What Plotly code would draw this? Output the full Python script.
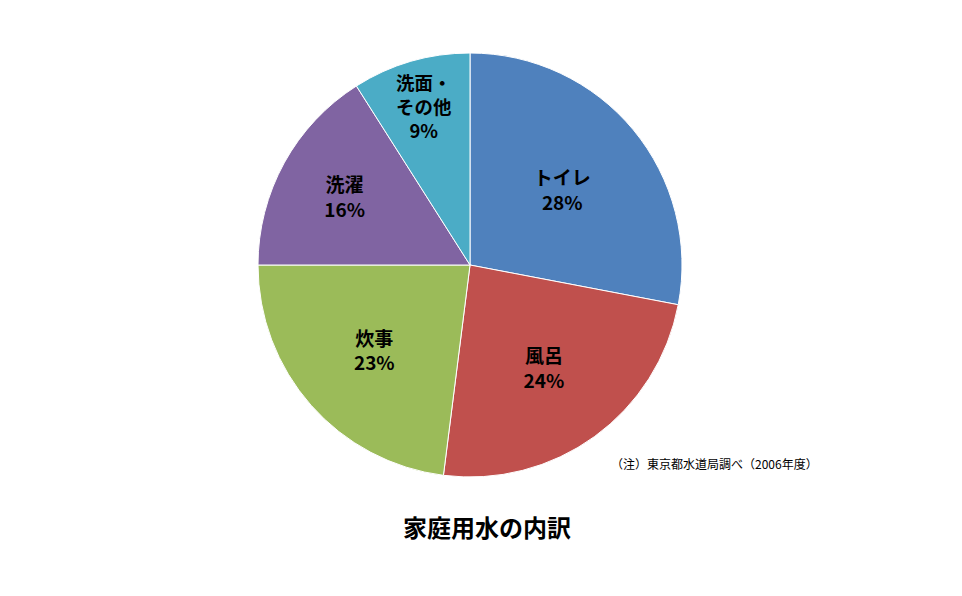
import plotly.graph_objects as go

categories = ["トイレ", "風呂", "炊事", "洗濯", "洗面・<br>その他"]
shares = [28, 24, 23, 16, 9]
colors = ["#4F81BD", "#C0504D", "#9BBB59", "#8064A2", "#4BACC6"]
title_text = "家庭用水の内訳"
note_text = "（注）東京都水道局調べ（2006年度）"

W, H = 962, 596
OFF = 8  # page body margin
cx, cy, r = 470 - OFF, 265 - OFF, 212

fig = go.Figure(go.Pie(
    labels=categories,
    values=shares,
    sort=False,
    direction="clockwise",
    rotation=0,
    marker=dict(colors=colors, line=dict(color="white", width=1)),
    texttemplate="<b>%{label}<br>%{value}%</b>",
    textposition="inside",
    insidetextorientation="horizontal",
    textfont=dict(family="Noto Sans CJK JP", size=19, color="black"),
    domain=dict(x=[(cx - r) / W, (cx + r) / W], y=[1 - (cy + r) / H, 1 - (cy - r) / H]),
    showlegend=False,
    hoverinfo="label+percent",
))

fig.add_annotation(text="<b>" + title_text + "</b>", x=(487 - OFF) / W, y=1 - (526 - OFF) / H,
                   xref="paper", yref="paper", xanchor="center", yanchor="middle", showarrow=False,
                   font=dict(family="Noto Sans CJK JP", size=24, color="black"))
fig.add_annotation(text=note_text, x=(714 - OFF) / W, y=1 - (463 - OFF) / H,
                   xref="paper", yref="paper", xanchor="center", yanchor="middle", showarrow=False,
                   font=dict(family="Noto Sans CJK JP", size=12, color="black"))

fig.update_layout(width=W, height=H, margin=dict(l=0, r=0, t=0, b=0),
                  paper_bgcolor="white", plot_bgcolor="white")
fig.write_html("out.html")
